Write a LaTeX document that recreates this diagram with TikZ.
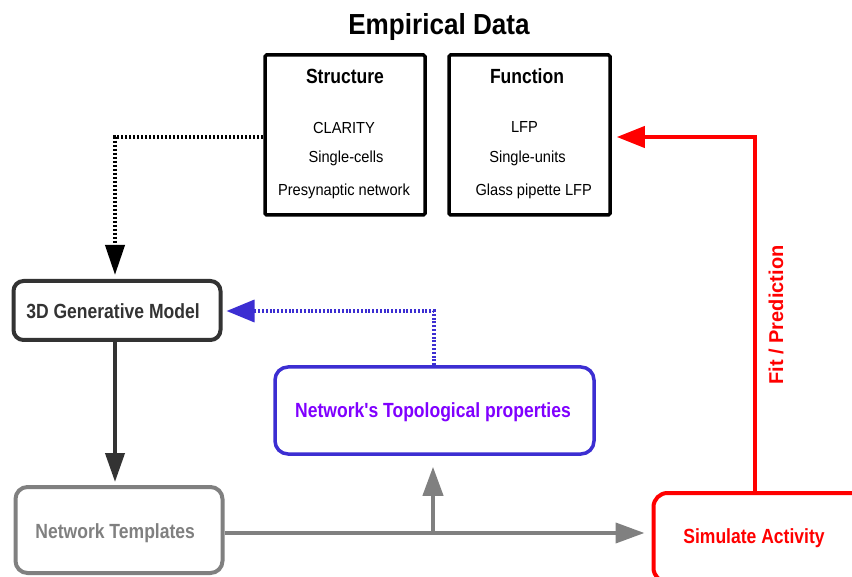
\documentclass[tikz,border=0pt]{standalone}
\usepackage{fontspec}
\setmainfont{Liberation Sans}
\newfontfamily\nbf[FakeStretch=0.855]{Liberation Sans}
\newfontfamily\ttlf[FakeStretch=0.9]{Liberation Sans}
\newfontfamily\nrm[FakeStretch=0.915]{Liberation Sans}
\usetikzlibrary{arrows.meta}
\definecolor{dgray}{HTML}{333333}
\definecolor{mgray}{HTML}{808080}
\definecolor{tblue}{HTML}{3C2ED2}
\definecolor{tpurple}{HTML}{8000FF}
\tikzset{
  titletext/.style={font=\ttlf\bfseries\fontsize{29}{34}\selectfont, anchor=base, inner sep=0pt},
  headtext/.style={font=\nbf\bfseries\fontsize{20.5}{24}\selectfont, anchor=base, inner sep=0pt},
  lbl/.style={font=\nbf\bfseries\fontsize{20.5}{24}\selectfont, anchor=base, inner sep=0pt},
  itm/.style={font=\nrm\fontsize{16}{19}\selectfont, anchor=base, inner sep=0pt},
  databox/.style={draw=black, line width=3.5pt, minimum width=160pt, minimum height=160pt, inner sep=0pt, rounded corners=1.5pt},
  procbox/.style={line width=4pt, rounded corners=12pt, inner sep=0pt, fill=white},
  tipA/.style={-{Triangle[length=30pt,width=19pt]}},
  blkdot/.style={tipA, draw=black, line width=4pt, dash pattern=on 2.5pt off 1.5pt},
  bludot/.style={-{Triangle[length=28pt,width=22pt]}, draw=tblue, line width=3.5pt, dash pattern=on 2pt off 1.8pt, color=tblue},
  redarr/.style={-{Triangle[length=28pt,width=21pt]}, draw=red, color=red, line width=4pt},
  darkarr/.style={-{Triangle[length=29pt,width=19pt]}, draw=dgray, color=dgray, line width=4pt},
  grayarr/.style={-{Triangle[length=29pt,width=20pt]}, draw=mgray, color=mgray, line width=4pt},
}
\begin{document}
\begin{tikzpicture}[x=1pt,y=-1pt]
\useasboundingbox (0,0) rectangle (852,577);
% title
\node[titletext] (title) at (439,34.3) {Empirical Data};
% data boxes
\node[databox] (struct) at (345,135) {};
\node[databox, minimum width=161pt] (func) at (529.5,135) {};
\node[headtext] (structT) at (345,83.5) {Structure};
\node[itm] (s1) at (344,133.3) {CLARITY};
\node[itm] (s2) at (346,162.7) {Single-cells};
\node[itm] (s3) at (344,195.7) {Presynaptic network};
\node[headtext] (funcT) at (527,84) {Function};
\node[itm] (f1) at (524.5,133) {LFP};
\node[itm] (f2) at (527.5,162.7) {Single-units};
\node[itm] (f3) at (533.7,195.3) {Glass pipette LFP};
% process boxes
\node[procbox, draw=dgray, minimum width=207pt, minimum height=59pt, rounded corners=10pt] (gen) at (117,310.5) {};
\node[lbl, text=dgray] (genT) at (113,319) {3D Generative Model};
\node[procbox, draw=mgray, minimum width=207pt, minimum height=86pt] (templ) at (119,530) {};
\node[lbl, text=mgray] (templT) at (115.2,538) {Network Templates};
\node[procbox, draw=tblue, line width=3.5pt, minimum width=319pt, minimum height=87pt, rounded corners=13pt] (topo) at (434.5,410.5) {};
\node[lbl, text=tpurple] (topoT) at (433,417.7) {Network's Topological properties};
\node[procbox, draw=red, minimum width=220pt, minimum height=89pt, rounded corners=14pt] (sim) at (763.5,537.5) {};
\node[lbl, text=red] (simT) at (754,543.3) {Simulate Activity};
% helper coordinates
\coordinate (bk) at (115,137);
\coordinate (bb) at (434,311);
\coordinate (rb) at (755,137);
\coordinate (dx) at (115,400);
\coordinate (j) at (433,533);
% connectors
\draw[blkdot, shorten >=4pt] (struct.west |- bk) -- (bk) -- (bk |- gen.north);
\draw[bludot, shorten >=4pt] (topo.north -| bb) -- (bb) -- (bb -| gen.east);
\draw[redarr, shorten >=5pt] (sim.north -| rb) -- (rb) -- (rb -| func.east);
\draw[darkarr, shorten >=3pt] (gen.south -| dx) -- (templ.north -| dx);
\draw[grayarr, shorten >=7pt] (templ.east |- j) -- (j -| sim.west);
\draw[grayarr, shorten >=11pt] (j) -- (j |- topo.south);
% label
\node[font=\bfseries\fontsize{20}{24}\selectfont, text=red, rotate=90, anchor=base, inner sep=0pt] (fit) at (783,315) {Fit / Prediction};
\end{tikzpicture}
\end{document}
